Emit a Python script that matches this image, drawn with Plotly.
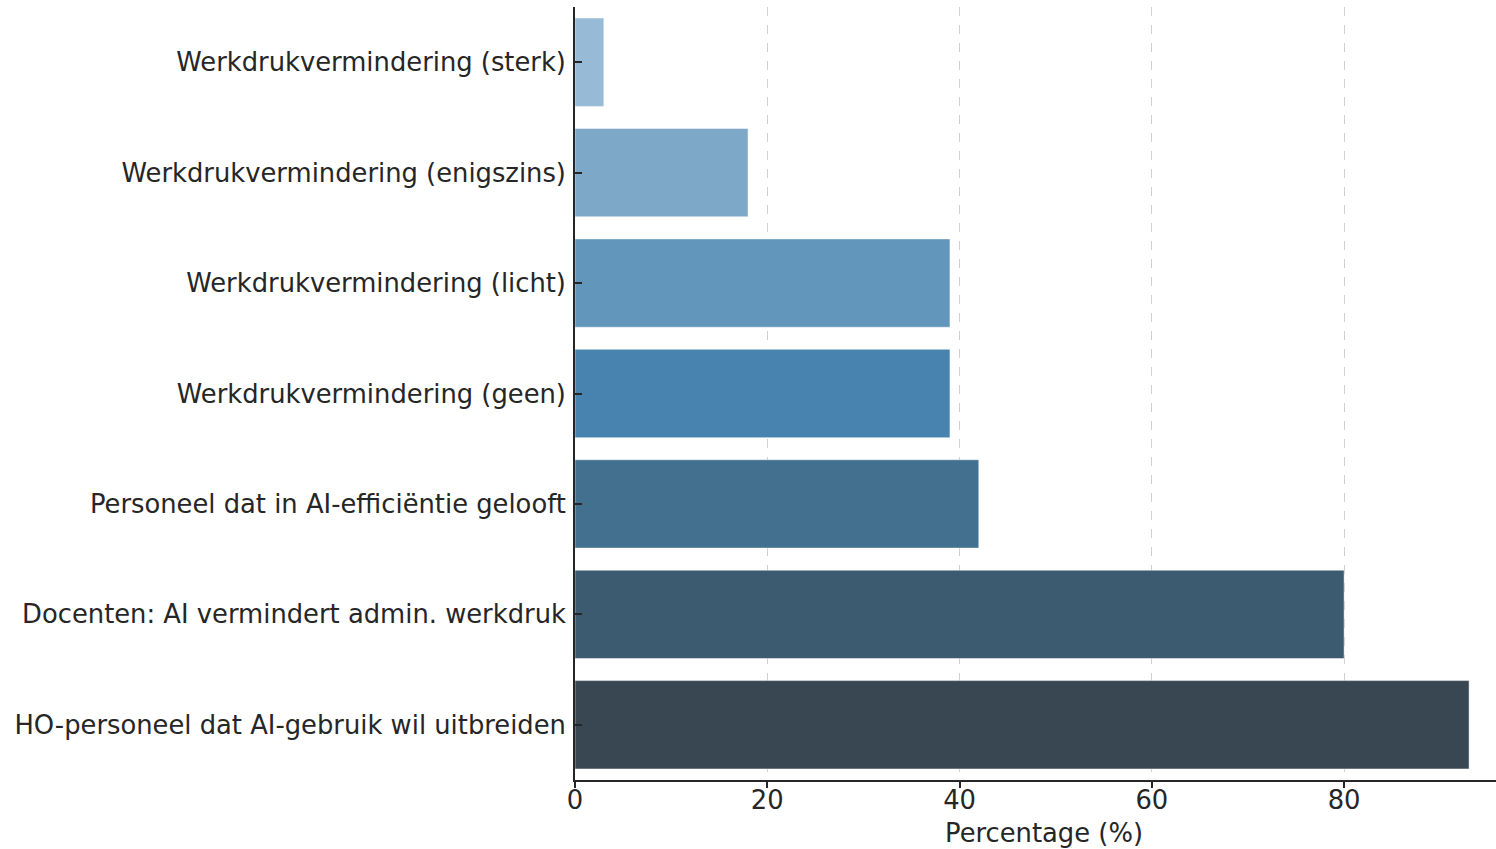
import plotly.graph_objects as go

categories = [
    "Werkdrukvermindering (sterk)",
    "Werkdrukvermindering (enigszins)",
    "Werkdrukvermindering (licht)",
    "Werkdrukvermindering (geen)",
    "Personeel dat in AI-efficiëntie gelooft",
    "Docenten: AI vermindert admin. werkdruk",
    "HO-personeel dat AI-gebruik wil uitbreiden",
]
values = [3, 18, 39, 39, 42, 80, 93]
colors = ["#97bad6", "#7ea8c8", "#6396bb", "#4883af", "#44708f", "#3d5b70", "#394753"]
x_ticks = [0, 20, 40, 60, 80]

FS = 25.8

fig = go.Figure(
    go.Bar(
        x=values,
        y=categories,
        orientation="h",
        width=0.8,
        marker=dict(color=colors, line=dict(color="rgba(255,255,255,0.6)", width=0.8)),
        hoverinfo="x+y",
    )
)

fig.update_layout(
    width=1496,
    height=849,
    margin=dict(l=575, r=0, t=7, b=69),
    plot_bgcolor="white",
    paper_bgcolor="white",
    font=dict(family="DejaVu Sans", size=FS, color="#262626"),
    showlegend=False,
    bargap=0.2,
    annotations=[
        dict(
            text="Percentage (%)",
            xref="paper",
            yref="paper",
            x=0.509,
            y=0,
            yshift=-53,
            showarrow=False,
            xanchor="center",
            yanchor="middle",
            font=dict(family="DejaVu Sans", size=FS, color="#262626"),
        )
    ],
)

fig.update_xaxes(
    range=[0, 95.8],
    tickvals=x_ticks,
    ticks="outside",
    ticklen=6,
    tickwidth=1.5,
    tickcolor="#262626",
    showline=True,
    linecolor="#262626",
    linewidth=1.8,
    showgrid=True,
    gridcolor="#d0d0d0",
    griddash="dash",
    gridwidth=1,
    zeroline=False,
    ticklabelstandoff=-10,
    tickfont=dict(size=FS),
)

fig.update_yaxes(
    categoryorder="array",
    categoryarray=categories,
    autorange="reversed",
    range=[6.5, -0.5],
    ticks="inside",
    ticklen=7,
    tickwidth=1.5,
    tickcolor="#262626",
    showline=True,
    linecolor="#262626",
    linewidth=1.8,
    showgrid=False,
    zeroline=False,
    ticklabelstandoff=2,
    tickfont=dict(size=FS),
)

fig.write_html(
    "out.html",
    config={"displayModeBar": False},
    post_script="document.body.style.margin='0';document.body.style.overflow='hidden';",
)
